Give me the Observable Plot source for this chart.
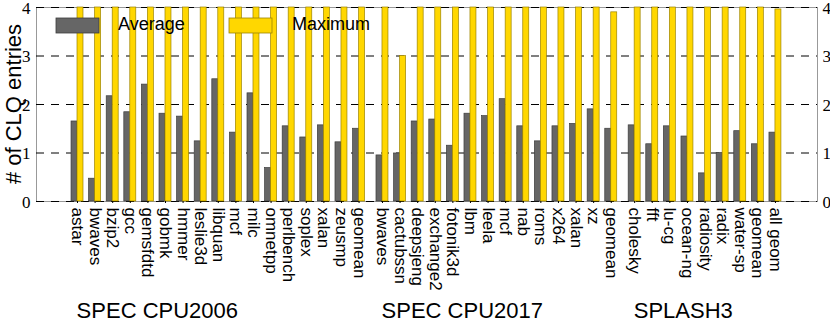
<!DOCTYPE html>
<html>
<head>
<meta charset="utf-8">
<script src="https://cdn.jsdelivr.net/npm/d3@7"></script>
<script src="https://cdn.jsdelivr.net/npm/@observablehq/plot@0.6"></script>
<style>
  html, body { margin: 0; padding: 0; background: #fff; }
  #chart { width: 830px; height: 322px; }
</style>
</head>
<body>
<div id="chart"></div>
<script>
// ---- data ----
const groupNames = ["SPEC CPU2006", "SPEC CPU2017", "SPLASH3"];

const cpu2006Names = ["astar","bwaves","bzip2","gcc","gemsfdtd","gobmk","hmmer","leslie3d","libquan","mcf","milc","omnetpp","perlbench","soplex","xalan","zeusmp","geomean"];
const cpu2006Avg   = [1.65,0.47,2.17,1.84,2.41,1.81,1.75,1.24,2.52,1.42,2.23,0.69,1.55,1.32,1.57,1.22,1.50];
const cpu2006Max   = [4,4,4,4,4,4,4,4,4,4,4,4,4,4,4,4,4];

const cpu2017Names = ["bwaves","cactubssn","deepsjeng","exchange2","fotonik3d","lbm","leela","mcf","nab","roms","x264","xalan","xz","geomean"];
const cpu2017Avg   = [0.95,0.99,1.65,1.69,1.15,1.81,1.76,2.11,1.55,1.24,1.55,1.60,1.90,1.50];
const cpu2017Max   = [4,3.0,4,4,4,4,4,4,4,4,4,4,4,3.90];

const splashNames  = ["cholesky","fft","lu-cg","ocean-ng","radiosity","radix","water-sp","geomean","all geom"];
const splashAvg    = [1.57,1.18,1.55,1.34,0.58,1.00,1.45,1.18,1.42];
const splashMax    = [4,4,4,4,4,4,4,4,3.96];

const yTicks = [0, 1, 2, 3, 4];
const seriesNames = ["Average", "Maximum"];

// ---- build table (position = running index + small gap per group) ----
const GAP = 0.33;
const rows = [];
const groupStart = [];
[[cpu2006Names, cpu2006Avg, cpu2006Max], [cpu2017Names, cpu2017Avg, cpu2017Max], [splashNames, splashAvg, splashMax]]
  .forEach(([names, avg, mx], g) => {
    names.forEach((n, i) => {
      const pos = rows.length + g * GAP;
      if (i === 0) groupStart.push({group: groupNames[g], pos});
      rows.push({name: n, pos, avg: avg[i], max: mx[i]});
    });
  });

const W = 0.34;
const grayFill = "#666666", grayStroke = "#3c3c3c";
const goldFill = "#FFD700", goldStroke = "#9c8400";
const serif = "'Liberation Serif', 'DejaVu Serif', serif";
const sans = "'Liberation Sans', Arial, sans-serif";

const plot = Plot.plot({
  width: 830,
  height: 322,
  marginLeft: 36,
  marginRight: 13,
  marginTop: 7,
  marginBottom: 121,
  style: {fontFamily: sans, background: "#fff", color: "#000", overflow: "visible"},
  x: {type: "linear", domain: [-2.33, 42.05]},
  y: {domain: [0, 4]},
  marks: [
    Plot.frame({stroke: "#999"}),
    Plot.ruleY(yTicks, {stroke: "#000", strokeDasharray: "8,7", strokeWidth: 1}),
    Plot.rectY(rows, {x1: d => d.pos - W, x2: d => d.pos, y1: 0, y2: "avg", fill: grayFill, stroke: grayStroke, strokeWidth: 0.7}),
    Plot.rectY(rows, {x1: d => d.pos, x2: d => d.pos + W, y1: 0, y2: "max", fill: goldFill, stroke: goldStroke, strokeWidth: 0.7}),
    Plot.axisX(rows.map(d => d.pos), {
      anchor: "bottom",
      tickFormat: p => rows.find(r => r.pos === p).name,
      tickRotate: 90,
      tickSize: 2,
      tickPadding: 4,
      fontSize: 17,
      label: null
    }),
    Plot.axisY(yTicks, {anchor: "left", tickSize: 0, tickPadding: 6, fontSize: 17, fontFamily: serif, dy: 1, label: null}),
    Plot.axisY(yTicks, {anchor: "right", tickSize: 0, tickPadding: 5, fontSize: 17, fontFamily: serif, dy: 1, label: null}),
    Plot.text(groupStart, {x: d => d.pos - 0.05, text: "group", frameAnchor: "bottom", dy: 116, lineAnchor: "bottom", textAnchor: "start", fontSize: 22})
  ]
});

// legend and y label (drawn on the svg)
const svg = d3.select(plot);
const leg = svg.append("g").attr("text-anchor", "start");
const legendItems = [
  {label: seriesNames[0], fill: grayFill, stroke: grayStroke, x: 56, tx: 118},
  {label: seriesNames[1], fill: goldFill, stroke: goldStroke, x: 229, tx: 292}
];
legendItems.forEach(it => {
  leg.append("rect").attr("x", it.x).attr("y", 18).attr("width", 43).attr("height", 15)
    .attr("fill", it.fill).attr("stroke", it.stroke).attr("stroke-width", 0.8);
  leg.append("text").attr("x", it.tx).attr("y", 30).attr("font-size", 18)
    .attr("text-anchor", "start")
    .attr("font-family", sans).attr("fill", "#000").text(it.label);
});
svg.append("text")
  .attr("transform", "translate(21,104) rotate(-90)")
  .attr("text-anchor", "middle")
  .attr("font-size", 22)
  .attr("font-family", sans)
  .attr("fill", "#000")
  .text("# of CLQ entries");

document.getElementById("chart").appendChild(plot);
</script>
</body>
</html>
